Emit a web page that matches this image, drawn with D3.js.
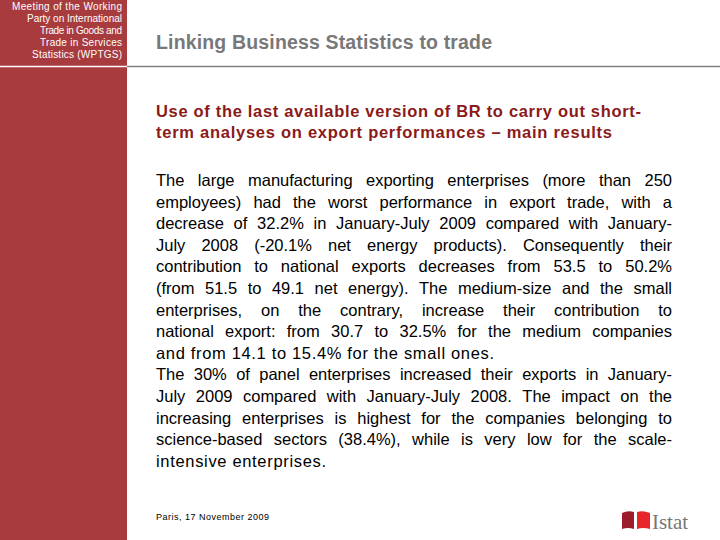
<!DOCTYPE html>
<html><head><meta charset="utf-8">
<script src="https://cdn.jsdelivr.net/npm/d3@7"></script>
<style>body{margin:0;background:#fff}</style></head>
<body><svg id="s" width="720" height="540"></svg>
<script>
const sidebarLines=["Meeting of the Working","Party on International","Trade in Goods and","Trade in Services","Statistics (WPTGS)"];
const sidebarWidths=[110,95,82,82,90];
const titleText="Linking Business Statistics to trade";
const subtitleLines=["Use of the last available version of BR to carry out short-","term analyses on export performances – main results"];
const subtitleWidths=[485,456];
const bodyLines=[
"The large manufacturing exporting enterprises (more than 250",
"employees) had the worst performance in export trade, with a",
"decrease of 32.2% in January-July 2009 compared with January-",
"July 2008 (-20.1% net energy products). Consequently their",
"contribution to national exports decreases from 53.5 to 50.2%",
"(from 51.5 to 49.1 net energy). The medium-size and the small",
"enterprises, on the contrary, increase their contribution to",
"national export: from 30.7 to 32.5% for the medium companies",
"and from 14.1 to 15.4% for the small ones.",
"The 30% of panel enterprises increased their exports in January-",
"July 2009 compared with January-July 2008. The impact on the",
"increasing enterprises is highest for the companies belonging to",
"science-based sectors (38.4%), while is very low for the scale-",
"intensive enterprises."];
const lastLineWidths={8:338,13:170};
const footer="Paris, 17 November 2009";

const svg=d3.select("#s");
const F="Liberation Sans, Arial, sans-serif";
svg.append("rect").attr("x",0).attr("y",0).attr("width",127).attr("height",540).attr("fill","#a83b3e");
svg.append("line").attr("x1",0).attr("x2",127).attr("y1",66.5).attr("y2",66.5).attr("stroke","#fff").attr("stroke-width",1.5);
svg.append("line").attr("x1",127).attr("x2",720).attr("y1",66.5).attr("y2",66.5).attr("stroke","#808080").attr("stroke-width",1.5);
svg.selectAll(".sb").data(sidebarLines).join("text").attr("x",122).attr("y",(d,i)=>10+i*12)
 .attr("text-anchor","end").attr("font-family",F).attr("font-size",10).attr("fill","#fff")
 .attr("textLength",(d,i)=>sidebarWidths[i]).attr("lengthAdjust","spacing").text(d=>d);
svg.append("text").attr("x",156).attr("y",49).attr("font-family",F).attr("font-size",19.5).attr("font-weight","bold").attr("fill","#787878").attr("textLength",336).text(titleText);
svg.selectAll(".st").data(subtitleLines).join("text").attr("x",156).attr("y",(d,i)=>117+i*21)
 .attr("font-family",F).attr("font-size",16.5).attr("font-weight","bold").attr("fill","#8b1a1a")
 .attr("textLength",(d,i)=>subtitleWidths[i]).attr("lengthAdjust","spacing").text(d=>d);
const L=156,R=672;
bodyLines.forEach((line,i)=>{
  const y=186+i*21.6;
  if(lastLineWidths[i]){
    svg.append("text").attr("x",L).attr("y",y).attr("font-family",F).attr("font-size",16.5).attr("fill","#000")
      .attr("textLength",lastLineWidths[i]).attr("lengthAdjust","spacing").text(line);
    return;
  }
  const g=svg.append("g");
  const words=line.split(" ");
  const ts=words.map(w=>g.append("text").attr("y",y).attr("font-family",F).attr("font-size",16.5).attr("fill","#000").text(w));
  const ws=ts.map(t=>t.node().getComputedTextLength());
  const space=(R-L-d3.sum(ws))/(words.length-1);
  let x=L; ts.forEach((t,k)=>{t.attr("x",x); x+=ws[k]+space;});
});
svg.append("text").attr("x",156).attr("y",520).attr("font-family",F).attr("font-size",9).attr("fill","#000").attr("textLength",113).text(footer);
svg.append("path").attr("d","M622,513 Q628,510 634,512 L634,529 Q628,527 622,529 Z").attr("fill","#9b1c2c");
svg.append("path").attr("d","M637,512 Q643,510 650,513 L650,529 Q643,527 637,529 Z").attr("fill","#e8262a");
svg.append("text").attr("x",652).attr("y",529).attr("font-family","Liberation Serif, serif").attr("font-size",21).attr("fill","#777").attr("textLength",36).text("Istat");
</script></body></html>
